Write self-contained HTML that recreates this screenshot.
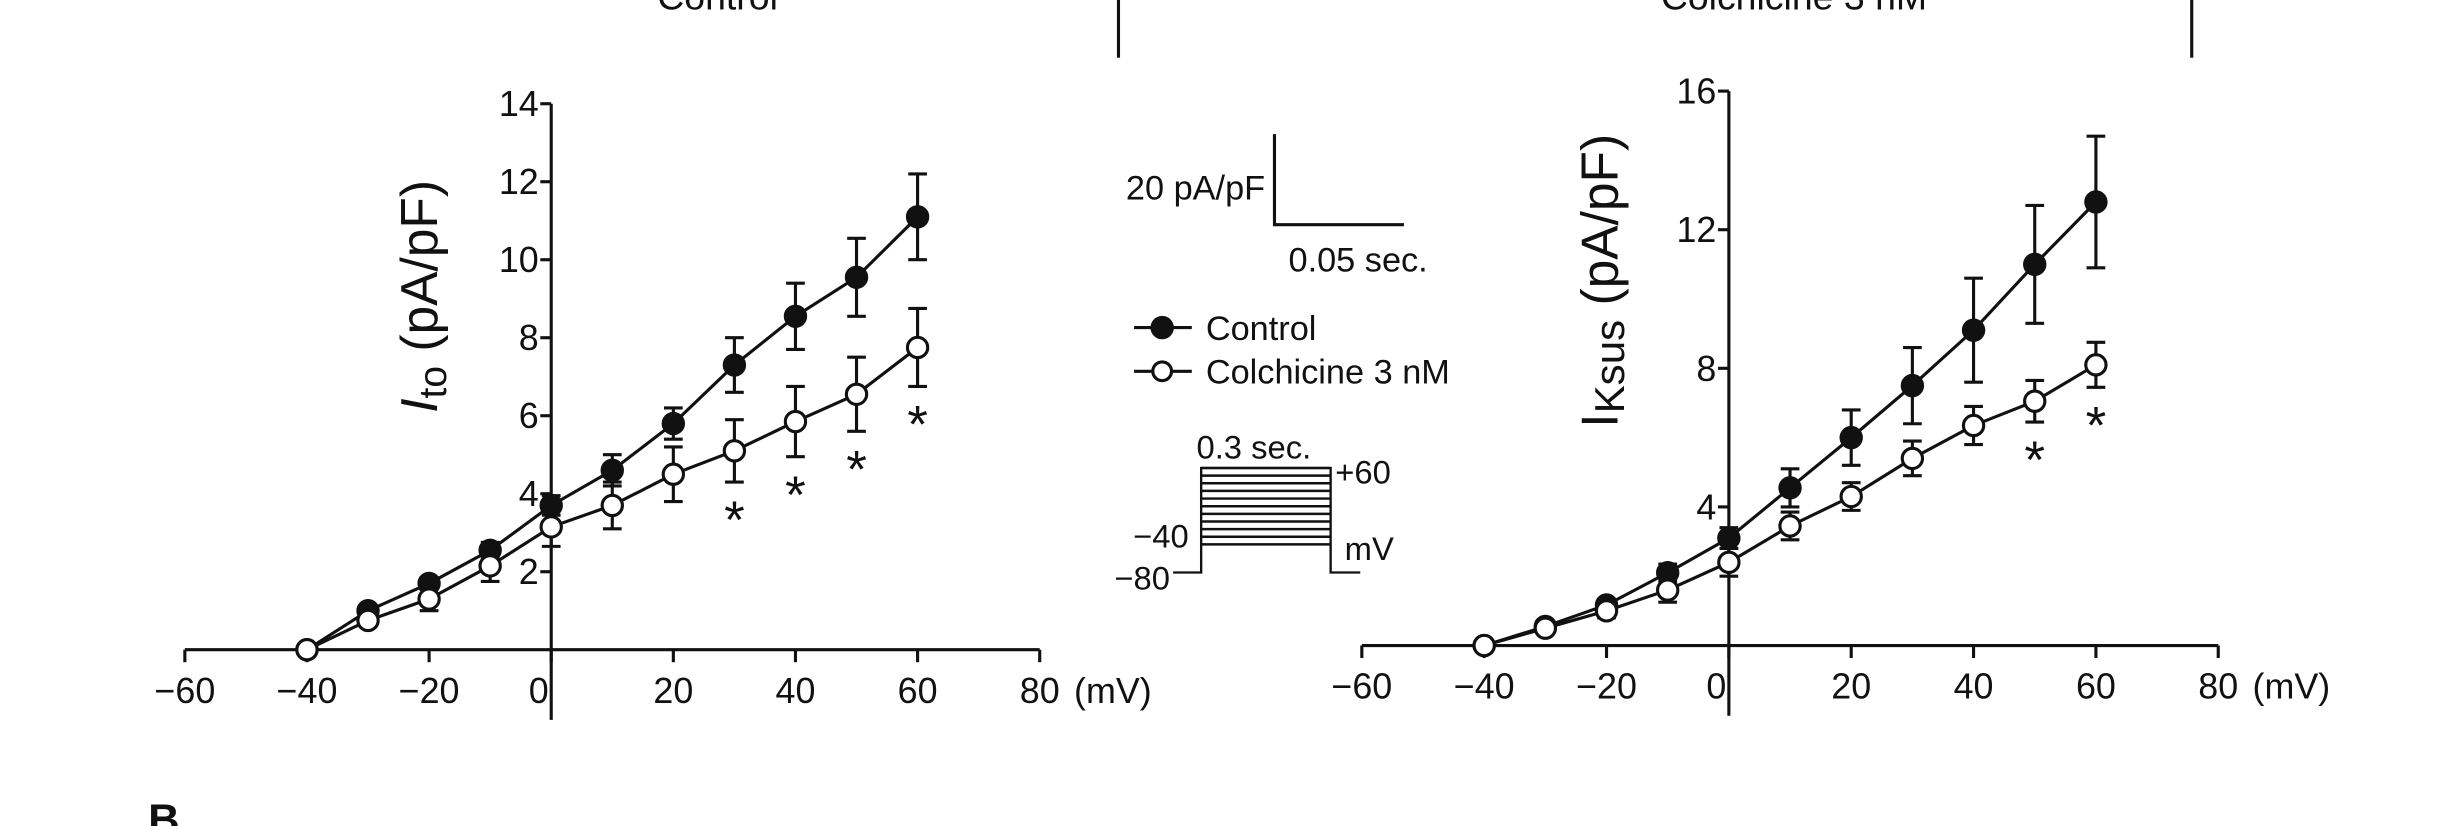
<!DOCTYPE html>
<html><head><meta charset="utf-8"><style>
html,body{margin:0;padding:0;background:#fff}
svg{display:block}
text{font-family:"Liberation Sans",Arial,sans-serif;fill:#111}
</style></head><body>
<svg id="fig" width="2446" height="826" viewBox="0 0 1568 529.5" preserveAspectRatio="none">
<g>
<text x="460" y="6" font-size="24" text-anchor="middle">Control</text>
<line x1="717" y1="0" x2="717" y2="37" stroke="#111" stroke-width="2"/>
<text x="1150" y="6" font-size="24" text-anchor="middle">Colchicine 3 nM</text>
<line x1="1405" y1="0" x2="1405" y2="37" stroke="#111" stroke-width="2"/>
</g>
<g id="left"></g>
<g id="right"></g>
<g>
<text x="811" y="128" font-size="22" text-anchor="end">20 pA/pF</text>
<polyline points="817,86 817,144 900,144" fill="none" stroke="#111" stroke-width="2"/>
<text x="826" y="174" font-size="22">0.05 sec.</text>
</g>
<g>
<g>
<line x1="727" y1="210" x2="764" y2="210" stroke="#111" stroke-width="2"/>
<circle cx="745" cy="210" r="6.5" fill="#111" stroke="#111" stroke-width="2"/>
<text x="773" y="218" font-size="22">Control</text></g>
<g>
<line x1="727" y1="238" x2="764" y2="238" stroke="#111" stroke-width="2"/>
<circle cx="745" cy="238" r="6" fill="#fff" stroke="#111" stroke-width="2"/>
<text x="773" y="246" font-size="22">Colchicine 3 nM</text></g>
</g>
<g id="protocol">
<text x="767" y="294" font-size="21">0.3 sec.</text>
<text x="856" y="310" font-size="21">+60</text>
<text x="762" y="351" font-size="21" text-anchor="end">−40</text>
<text x="862" y="359" font-size="21">mV</text>
<text x="750" y="378" font-size="21" text-anchor="end">−80</text>
<polyline points="752,367 770,367 770,300 853,300 853,367 872,367" fill="none" stroke="#111" stroke-width="1.5"/>
</g>
<text x="95" y="535" font-size="28" font-weight="bold">B</text>
</svg>
<script>
const NS='http://www.w3.org/2000/svg';
const voltages=[-40,-30,-20,-10,0,10,20,30,40,50,60];
const xTicks=[-60,-40,-20,0,20,40,60,80];
const itoControl=[0,1.0,1.7,2.55,3.7,4.6,5.8,7.3,8.55,9.55,11.1];
const itoControlErr=[0,0.1,0.15,0.2,0.25,0.4,0.4,0.7,0.85,1.0,1.1];
const itoColch=[0,0.75,1.3,2.15,3.15,3.7,4.5,5.1,5.85,6.55,7.75];
const itoColchErr=[0,0.1,0.3,0.4,0.5,0.6,0.7,0.8,0.9,0.95,1.0];
const itoTicks=[2,4,6,8,10,12,14];
const itoStars=[30,40,50,60];
const ksControl=[0,0.55,1.17,2.1,3.1,4.55,6.0,7.5,9.1,11.0,12.8];
const ksControlErr=[0,0.1,0.15,0.25,0.3,0.55,0.8,1.1,1.5,1.7,1.9];
const ksColch=[0,0.5,1.0,1.6,2.4,3.45,4.3,5.4,6.35,7.05,8.1];
const ksColchErr=[0,0.1,0.2,0.35,0.4,0.4,0.4,0.5,0.55,0.6,0.65];
const ksTicks=[4,8,12,16];
const ksStars=[50,60];
const svg=document.getElementById('fig');
function mk(tag,attrs,parent,text){const e=document.createElementNS(NS,tag);for(const k in attrs)e.setAttribute(k,attrs[k]);if(text!==undefined)e.textContent=text;parent.appendChild(e);return e;}
function chart(g,cfg){
  const xs=v=>cfg.x0+(v-(-60))/140*(cfg.x1-cfg.x0);
  const ys=v=>cfg.yb-v/cfg.ymax*(cfg.yb-cfg.yt);
  const ax=mk('g',{},g);
  
  
  mk('line',{x1:cfg.x0,y1:cfg.yb,x2:cfg.x1,y2:cfg.yb,stroke:'#111','stroke-width':2},ax);
  xTicks.forEach(t=>{mk('line',{x1:xs(t),y1:cfg.yb,x2:xs(t),y2:cfg.yb+8,stroke:'#111','stroke-width':2},ax);
    const tx=mk('text',{x:xs(t)+(t===0?-8:0),y:cfg.yb+34,'font-size':23,'text-anchor':'middle'},ax,t<0?'−'+(-t):String(t));
    
    });
  mk('text',{x:xs(80)+22,y:cfg.yb+34,'font-size':23},ax,'(mV)');
  const ay=mk('g',{},g);
  
  
  mk('line',{x1:xs(0),y1:cfg.yt,x2:xs(0),y2:cfg.yb+45,stroke:'#111','stroke-width':2},ay);
  cfg.yTicks.forEach(t=>{mk('line',{x1:xs(0)-7,y1:ys(t),x2:xs(0),y2:ys(t),stroke:'#111','stroke-width':2},ay);
    const tx=mk('text',{x:xs(0)-8,y:ys(t)+8,'font-size':23,'text-anchor':'end'},ay,String(t));
    
    });
  const yt=mk('text',{transform:`translate(${cfg.lx},${cfg.ly}) rotate(-90)`,'font-size':33,'text-anchor':'middle'},ay);
  
  
  if(cfg.italic){mk('tspan',{'font-style':'italic'},yt,'I');mk('tspan',{'font-size':25,dy:6},yt,'to');mk('tspan',{dy:-6},yt,' (pA/pF)');}
  else{mk('tspan',{},yt,'I');mk('tspan',{'font-size':27,dy:4},yt,'Ksus');mk('tspan',{dy:-4},yt,' (pA/pF)');}
  [[cfg.c,cfg.ce,'#111','control'],[cfg.o,cfg.oe,'#fff','colchicine']].forEach(([vals,errs,fill,nm])=>{
    const sg=mk('g',{},g);
    
    
    mk('polyline',{points:voltages.map((v,i)=>xs(v)+','+ys(vals[i])).join(' '),fill:'none',stroke:'#111','stroke-width':2},sg);
    voltages.forEach((v,i)=>{const x=xs(v),y1=ys(vals[i]+errs[i]),y2=ys(vals[i]-errs[i]);
      if(errs[i]>0){mk('line',{x1:x,y1:y1,x2:x,y2:y2,stroke:'#111','stroke-width':2},sg);
        mk('line',{x1:x-6,y1:y1,x2:x+6,y2:y1,stroke:'#111','stroke-width':2},sg);
        mk('line',{x1:x-6,y1:y2,x2:x+6,y2:y2,stroke:'#111','stroke-width':2},sg);}
      const p=mk('circle',{cx:x,cy:ys(vals[i]),r:6.5,fill:fill,stroke:'#111','stroke-width':2},sg);
      
      });
  });
  cfg.stars.forEach(v=>{const i=voltages.indexOf(v);
    const s=mk('text',{x:xs(v),y:ys(cfg.o[i]-cfg.oe[i])+36,'font-size':34,'text-anchor':'middle'},g,'*');
    
    });
}
chart(document.getElementById('left'),{x0:118.5,x1:666.5,yt:66.5,yb:416.5,ymax:14,yTicks:itoTicks,lx:280,ly:190,italic:true,c:itoControl,ce:itoControlErr,o:itoColch,oe:itoColchErr,stars:itoStars});
chart(document.getElementById('right'),{x0:873,x1:1422,yt:58.4,yb:413.8,ymax:16,yTicks:ksTicks,lx:1037,ly:180,italic:false,c:ksControl,ce:ksControlErr,o:ksColch,oe:ksColchErr,stars:ksStars});
const pr=document.getElementById('protocol');
for(let i=0;i<=10;i++){const y=300+i*4.9;mk('line',{x1:770,y1:y,x2:853,y2:y,stroke:'#111','stroke-width':1.6},pr);}
</script>
</body></html>
